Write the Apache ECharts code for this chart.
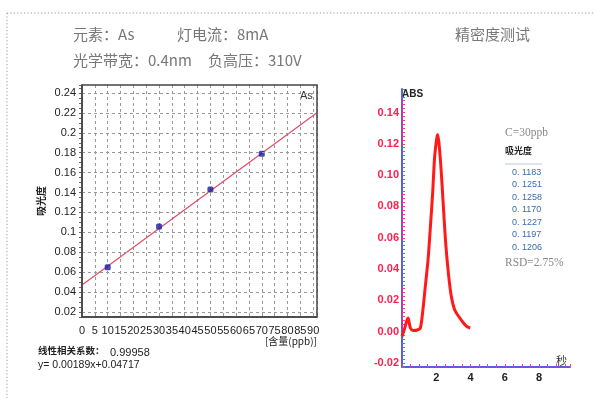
<!DOCTYPE html>
<html>
<head>
<meta charset="utf-8">
<script src="https://cdn.jsdelivr.net/npm/echarts@6/dist/echarts.min.js"></script>
<style>
html, body {margin: 0; padding: 0; background: #fff;}
#main {width: 595px; height: 398px;}
</style>
</head>
<body>
<div id="main"></div>
<script>
// 标准曲线 (As)
const stdConc = [10, 30, 50, 70];
const stdAbs = [0.065, 0.106, 0.143, 0.179];
const fitSlope = 0.00189;
const fitIntercept = 0.04717;
const calibXTicks = [0, 5, 10, 15, 20, 25, 30, 35, 40, 45, 50, 55, 60, 65, 70, 75, 80, 85, 90];
const calibYTicks = [0.02, 0.04, 0.06, 0.08, 0.1, 0.12, 0.14, 0.16, 0.18, 0.2, 0.22, 0.24];

// 精密度测试 峰形
const peakTime = [0, 0.16, 0.35, 0.49, 0.68, 0.93, 1.07, 1.2, 1.36, 1.52, 1.65, 1.79, 1.9, 2.02, 2.08,
    2.17, 2.29, 2.43, 2.56, 2.72, 2.87, 3.07, 3.3, 3.59, 3.78, 3.98];
const peakAbs = [-0.003, 0.0024, 0.0088, 0.0024, 0.0008, 0.0013, 0.0024, 0.012, 0.029, 0.046, 0.066, 0.089, 0.111, 0.123, 0.126,
    0.119, 0.102, 0.077, 0.055, 0.036, 0.023, 0.014, 0.0099, 0.0056, 0.0034, 0.0024];
const peakXTicks = [2, 4, 6, 8];
const peakYTicks = [-0.02, 0, 0.02, 0.04, 0.06, 0.08, 0.10, 0.12, 0.14];
const repeatAbs = [0.1183, 0.1251, 0.1258, 0.1170, 0.1227, 0.1197, 0.1206];

const fitX = [0, 91.5];
const cjk = '"Noto Sans CJK SC", sans-serif';
const arial = '"Liberation Sans", Arial, sans-serif';
const serif = '"Liberation Serif", serif';

const chart = echarts.init(document.getElementById('main'));

const headText = (text, x, y, size, color) => ({
    type: 'text', left: x, top: y, silent: true,
    style: {text, fontSize: size || 15, fontFamily: cjk, fill: color || '#777'}
});

const tableRows = repeatAbs.map((v, i) => ({
    type: 'text', left: 512, top: 168 + i * 12.5, silent: true,
    style: {text: '0. ' + v.toFixed(4).slice(2), fontSize: 9, fontFamily: arial, fill: '#3a6cb0'}
}));

const grid0 = {left: 82, top: 85, width: 235, height: 232};

chart.setOption({
    animation: false,
    grid: [
        grid0,
        {left: 402, top: 89, width: 168, height: 278}
    ],
    xAxis: [
        {
            gridIndex: 0, type: 'value', min: 0, max: 91.5, interval: 5,
            axisLine: {lineStyle: {color: '#444', width: 1.5}},
            axisTick: {show: false},
            axisLabel: {customValues: calibXTicks, color: '#222', fontSize: 11, fontFamily: arial, margin: 8},
            splitLine: {show: true, lineStyle: {color: '#999', type: [3, 3], width: 1}}
        },
        {
            gridIndex: 1, type: 'value', min: 0, max: 9.8, interval: 0.5,
            axisLine: {onZero: false, lineStyle: {color: '#5a5af0', width: 2}},
            axisTick: {inside: true, length: 3, lineStyle: {color: '#ff4060'}},
            axisLabel: {customValues: peakXTicks, color: '#222', fontWeight: 'bold', fontSize: 11, fontFamily: arial, margin: 5},
            splitLine: {show: false}
        }
    ],
    yAxis: [
        {
            gridIndex: 0, type: 'value', min: 0.015, max: 0.248, interval: 0.005,
            name: '吸光度', nameLocation: 'middle', nameRotate: 90, nameGap: 36,
            nameTextStyle: {fontSize: 10, fontWeight: 'bold', fontFamily: cjk, color: '#222'},
            axisLine: {show: true, lineStyle: {color: '#444', width: 1.5}},
            axisTick: {show: true, length: 3, lineStyle: {color: '#666'}},
            axisLabel: {customValues: calibYTicks, color: '#222', fontSize: 11, fontFamily: arial, margin: 6},
            splitLine: {show: false}
        },
        {
            gridIndex: 1, type: 'value', min: -0.0225, max: 0.155, interval: 0.0025,
            axisLine: {show: true, lineStyle: {color: '#5a5af0', width: 2}},
            axisTick: {show: true, inside: true, length: 3, lineStyle: {color: '#ff4060'}},
            axisLabel: {
                customValues: peakYTicks, color: '#ff2050', fontWeight: 'bold', fontSize: 11, fontFamily: arial, margin: 3,
                formatter: v => v.toFixed(2)
            },
            splitLine: {show: false}
        }
    ],
    series: [
        {
            type: 'line', xAxisIndex: 0, yAxisIndex: 0, symbol: 'none',
            data: fitX.map(x => [x, fitIntercept + fitSlope * x]),
            lineStyle: {color: '#e0506a', width: 1.3},
            markLine: {
                symbol: ['none', 'none'], label: {show: false},
                lineStyle: {color: '#999', type: [3, 3], width: 1},
                data: calibYTicks.map(v => ({yAxis: v}))
            }
        },
        {
            type: 'scatter', xAxisIndex: 0, yAxisIndex: 0, symbol: 'roundRect', symbolSize: 6,
            itemStyle: {color: '#1a1aa0'},
            data: stdConc.map((c, i) => [c, stdAbs[i]]),
            z: 4
        },
        {
            type: 'line', xAxisIndex: 1, yAxisIndex: 1, symbol: 'none', smooth: 0.3,
            data: peakTime.map((t, i) => [t, peakAbs[i]]),
            lineStyle: {color: '#ff1a1a', width: 3}
        }
    ],
    graphic: [
        {type: 'line', silent: true, shape: {x1: 7, y1: 13, x2: 595, y2: 13}, style: {stroke: '#999', lineWidth: 1, lineDash: [1.2, 2.2]}},
        {type: 'line', silent: true, shape: {x1: 7, y1: 13, x2: 7, y2: 398}, style: {stroke: '#999', lineWidth: 1, lineDash: [1.2, 2.2]}},
        {type: 'rect', silent: true, z: 10,
            shape: {x: grid0.left, y: grid0.top, width: grid0.width, height: grid0.height},
            style: {fill: 'none', stroke: '#444', lineWidth: 1.5}},
        headText('元素：As', 73, 27),
        headText('灯电流：8mA', 177, 27),
        headText('光学带宽：0.4nm', 73, 53),
        headText('负高压：310V', 208, 53),
        headText('精密度测试', 455, 27),
        {type: 'text', left: 300, top: 90, silent: true, style: {text: 'As', fontSize: 11, fontFamily: arial, fill: '#333'}},
        {type: 'text', right: 278, top: 336, silent: true, style: {text: '[含量(ppb)]', fontSize: 10, fontFamily: cjk, fill: '#222'}},
        {type: 'text', left: 38, top: 346, silent: true, style: {text: '线性相关系数：', fontSize: 9.5, fontWeight: 'bold', fontFamily: cjk, fill: '#222'}},
        {type: 'text', left: 110, top: 347, silent: true, style: {text: '0.99958', fontSize: 11, fontFamily: arial, fill: '#222'}},
        {type: 'text', left: 38, top: 360, silent: true, style: {text: 'y= 0.00189x+0.04717', fontSize: 10.5, fontFamily: arial, fill: '#222'}},
        {type: 'text', left: 402, top: 89, silent: true, style: {text: 'ABS', fontSize: 10, fontWeight: 'bold', fontFamily: arial, fill: '#222'}},
        {type: 'text', left: 556, top: 355, silent: true, style: {text: '秒', fontSize: 11, fontFamily: cjk, fill: '#333'}},
        {type: 'text', left: 505, top: 127, silent: true, style: {text: 'C=30ppb', fontSize: 11.5, fontFamily: serif, fill: '#888'}},
        {type: 'text', left: 505, top: 146, silent: true, style: {text: '吸光度', fontSize: 9, fontWeight: 'bold', fontFamily: cjk, fill: '#222'}},
        {type: 'line', silent: true, shape: {x1: 505, y1: 164, x2: 542, y2: 164}, style: {stroke: '#b8c8dc', lineWidth: 1}},
        ...tableRows,
        {type: 'text', left: 505, top: 257, silent: true, style: {text: 'RSD=2.75%', fontSize: 11.5, fontFamily: serif, fill: '#888'}}
    ]
});
</script>
</body>
</html>
